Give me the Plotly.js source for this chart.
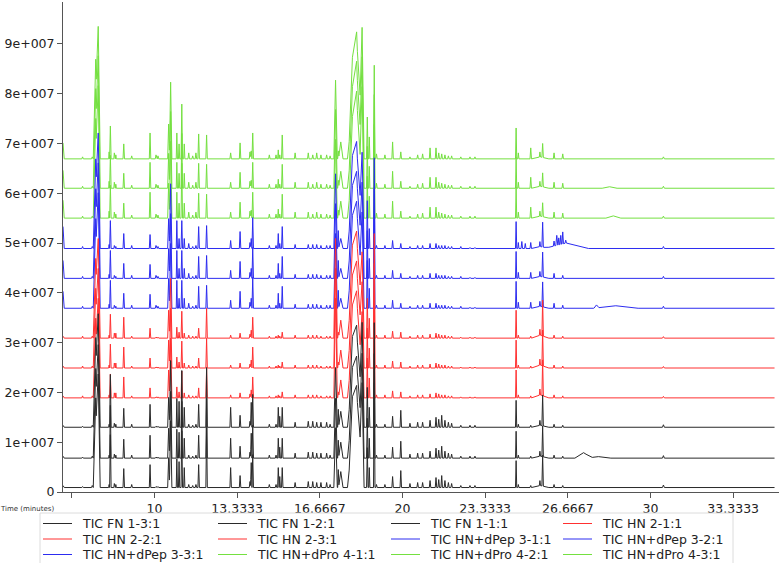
<!DOCTYPE html>
<html><head><meta charset="utf-8">
<script src="https://cdn.plot.ly/plotly-3.0.1.min.js"></script>
<style>html,body{margin:0;padding:0;background:#fff}#chart{width:779px;height:563px}</style>
</head><body><div id="chart"></div>
<script>
// Series (drawing order: back to front); legend shows them reversed
const seriesNames = ['TIC HN+dPro 4-3:1','TIC HN+dPro 4-2:1','TIC HN+dPro 4-1:1',
  'TIC HN+dPep 3-3:1','TIC HN+dPep 3-2:1','TIC HN+dPep 3-1:1',
  'TIC HN 2-3:1','TIC HN 2-2:1','TIC HN 2-1:1',
  'TIC FN 1-1:1','TIC FN 1-2:1','TIC FN 1-3:1'];
const seriesGroup = ['Pro','Pro','Pro','Pep','Pep','Pep','HN','HN','HN','FN','FN','FN'];
// baseline offsets, millions of counts
const baselines = [66.9, 61.0, 55.0, 48.9, 42.9, 36.9, 30.9, 24.9, 18.9, 13.0, 6.8, 0.9];

const T_START = 6.31, T_END = 35.0;

// peak retention times (minutes) and half widths (minutes)
const peakTimes = [7.10,7.49,7.63,7.73,8.17,8.22,8.38,8.44,8.76,9.08,
  9.82,10.06,10.14,10.57,10.65,10.90,10.99,11.10,11.20,11.38,
  11.54,11.67,11.78,12.10,13.07,13.45,13.85,13.90,13.96,14.63,
  14.90,14.99,15.05,15.15,15.67,16.20,16.38,16.54,16.71,16.94,
  17.08,17.30,17.41,17.51,17.98,18.15,18.37,18.58,18.66,18.86,
  18.95,19.29,19.60,19.93,20.30,20.61,20.81,21.11,21.35,21.46,
  21.58,21.71,21.85,21.98,22.35,22.72,22.92,24.58,24.67,25.17,
  25.55,25.54,25.65,26.11,26.46,30.52];
const peakWidths = [.03,.03,.10,.08,.02,.03,.02,.02,.03,.03,
  .03,.03,.03,.04,.05,.025,.025,.03,.025,.03,
  .03,.03,.03,.03,.03,.03,.03,.03,.03,.03,
  .03,.025,.025,.03,.03,.03,.03,.03,.03,.03,
  .03,.07,.025,.09,.2,.3,.08,.03,.025,.03,
  .03,.03,.03,.03,.03,.03,.03,.03,.03,.03,
  .03,.03,.03,.03,.03,.03,.03,.025,.025,.03,
  .35,.025,.03,.03,.03,.04];
// peak heights above baseline, millions of counts
const heightsFN = [0.2,0.4,18,22.8,0.6,10.6,0.8,0.6,3.8,0.6,
  4.6,0.2,0.2,6,13.4,5.8,5.2,11.4,4,0.6,
  0.4,0.6,4.6,12,4,2.4,1.2,5,6.6,0.6,
  0.6,4,2.2,4,1,1.2,1.2,1,1,1,
  0.6,12,3.6,3.2,10,19,16,8,4,21,
  0.6,0.6,2.2,3.4,0.8,1,1,1.4,2,1.6,
  2.4,1.4,1,0.8,0.4,0.4,0.4,5.4,0.6,0.4,
  0.4,1,6.2,0.6,0.4,0.5];
const heightsHN = [0.4,0.4,16,20,0.6,4.8,1,1,4.2,0.4,
  2,0.2,0.2,5.6,12,2.2,1.2,5.4,1,0.6,
  0.4,0.4,2,6,0.6,1,0.8,1.6,4.2,0.4,
  0.4,0.6,0.4,1.2,0.6,0.6,0.6,0.6,0.4,0.4,
  0.4,20,1.2,3.6,10,20,12,8,4,21,
  0.6,0.6,1.4,1.2,0.4,0.6,0.6,0.8,1,0.8,
  0.6,0.6,0.4,0.4,0.2,0.2,0.2,5.6,0.6,0.4,
  0.6,1.2,7.2,0.6,0.4,0.3];
const heightsPep = [0.4,0.4,18,23.2,0.8,5.6,0.6,0.4,3,0.6,
  2.8,0.6,0.4,6,13,5.6,2,5.6,2,1,
  0.4,0.6,4.4,4.6,1.6,3.4,1.2,2,6.2,0.6,
  0.6,3,1,4.4,0.8,0.8,0.8,0.8,0.6,0.6,
  0.6,15,3.6,2,10,20,14,9.6,4,18.2,
  0.6,0.6,1.6,1,0.4,0.6,0.6,1,1,0.6,
  0.6,0.6,0.4,0.4,0.4,0.2,0.2,5.4,1.2,1.2,
  0.4,1,5,1,0.6,0.4];
const heightsPro = [0.4,0.4,20,26.6,1.4,6.6,1.2,0.8,3,0.6,
  5.2,0.8,0.6,7,15.4,5.2,3,11,3,1.2,
  0.6,1.2,5,4.8,1.2,3.2,1.4,1.6,5.2,0.8,
  0.8,1.8,0.8,4.8,1.2,1.2,0.8,1.2,0.8,0.8,
  0.6,15.8,1.6,3.4,10,24,20,8.4,4.4,18.8,
  1,0.8,3.4,1.4,0.4,0.8,1,2.2,2.2,1.2,
  1,0.8,0.6,0.6,0.4,0.4,0.4,6.2,1.2,2.2,
  0.4,1,2.8,1.2,1,0.4];
const groupHeights = {FN: heightsFN, HN: heightsHN, Pep: heightsPep, Pro: heightsPro};

// trace-specific features: [time, half width, height (millions)]
const extrasPro43 = [[6.31,0.05,3.2]];
const extrasPro42 = [[6.31,0.05,3.6],[28.35,0.3,0.3]];
const extrasPro41 = [[6.31,0.05,3.6],[28.5,0.3,0.45]];
const extrasPep33 = [[6.31,0.05,4.4],[24.81,0.03,1.4],[24.95,0.03,1.0],[26.6,0.9,1.1],
  [26.22,0.04,2.0],[26.30,0.03,1.4],[26.38,0.03,1.8],[26.46,0.03,1.8],[26.58,0.03,0.6]];
const extrasPep32 = [[6.31,0.05,3.6]];
const extrasPep31 = [[6.31,0.05,3.4],[27.82,0.1,0.6],[28.6,0.9,0.5]];
const extrasHN23 = [[6.31,0.05,0.4]];
const extrasHN22 = [[6.31,0.05,0.4]];
const extrasHN21 = [[6.31,0.05,0.4]];
const extrasFN11 = [[6.31,0.05,0.4]];
const extrasFN12 = [[6.31,0.05,0.4],[27.3,0.35,1.1],[27.9,0.5,0.3]];
const extrasFN13 = [[6.31,0.05,0.4]];
const seriesExtras = [extrasPro43,extrasPro42,extrasPro41,extrasPep33,extrasPep32,extrasPep31,
  extrasHN23,extrasHN22,extrasHN21,extrasFN11,extrasFN12,extrasFN13];

const groupColors = {FN:'#2a2a2a', HN:'#ff3030', Pep:'#2c2cf0', Pro:'#74e040'};

const yTickVals = [0,1e7,2e7,3e7,4e7,5e7,6e7,7e7,8e7,9e7];
const yTickText = ['0','1e+007','2e+007','3e+007','4e+007','5e+007','6e+007','7e+007','8e+007','9e+007'];
const xTickVals = [6.66667,10,13.3333,16.6667,20,23.3333,26.6667,30,33.3333];
const xTickText = ['','10','13.3333','16.6667','20','23.3333','26.6667','30','33.3333'];

function buildSeries(k){
  const H = groupHeights[seriesGroup[k]];
  const peaks = peakTimes.map((t,i)=>[t, peakWidths[i], H[i]]).concat(seriesExtras[k]);
  let xs = [T_START, T_END];
  peaks.forEach(p=>{ xs.push(p[0]-p[1], p[0], p[0]+p[1]); });
  xs = Array.from(new Set(xs.filter(x=>x>=T_START && x<=T_END).map(x=>+x.toFixed(4)))).sort((a,b)=>a-b);
  const ys = xs.map(x=>{
    let v = baselines[k];
    peaks.forEach(p=>{ const d = Math.abs(x-p[0]); if(d<p[1]) v += p[2]*(1-d/p[1]); });
    return v*1e6;
  });
  return {x: xs, y: ys};
}

const traces = seriesNames.map((name,k)=>{
  const s = buildSeries(k);
  return {type:'scatter', mode:'lines', name:name, x:s.x, y:s.y,
    line:{color:groupColors[seriesGroup[k]], width:1}, hoverinfo:'skip', showlegend:false};
});

// plot box in pixels
const W = 779, Hh = 563, L = 63, R = 0, T = 2, B = 71;
const pw = W-L-R, ph = Hh-T-B;
const px2x = p => (p-L)/pw;
const py2y = p => (Hh-B-p)/ph;

const annotations = [{text:'Time (minutes)', xref:'paper', yref:'paper', x:px2x(27), y:py2y(509),
  xanchor:'center', yanchor:'middle', showarrow:false, font:{family:'DejaVu Sans', size:7, color:'#333'}}];
const shapes = [{type:'rect', xref:'paper', yref:'paper', x0:px2x(40), x1:px2x(733), y0:py2y(513), y1:py2y(575),
  line:{color:'#dcdcdc', width:1}, fillcolor:'rgba(0,0,0,0)'}];
const legendOrder = seriesNames.slice().reverse();
const colX = [80, 255, 428, 600], rowY = [523.5, 539, 554.5];
legendOrder.forEach((name,i)=>{
  const k = seriesNames.indexOf(name);
  const cx = colX[i%4], cy = rowY[Math.floor(i/4)];
  shapes.push({type:'line', xref:'paper', yref:'paper', x0:px2x(cx-37), x1:px2x(cx-8), y0:py2y(cy), y1:py2y(cy),
    line:{color:groupColors[seriesGroup[k]], width:1}});
  annotations.push({text:name, xref:'paper', yref:'paper', x:px2x(cx), y:py2y(cy), xanchor:'left', yanchor:'middle',
    showarrow:false, font:{family:'DejaVu Sans', size:12.5, color:'#222'}});
});

const layout = {
  width:W, height:Hh, margin:{l:L, r:R, t:T, b:B, pad:0},
  paper_bgcolor:'#fff', plot_bgcolor:'#fff', showlegend:false,
  font:{family:'DejaVu Sans', size:12.5, color:'#222'},
  xaxis:{range:[T_START, 35.18], tickvals:xTickVals, ticktext:xTickText, showgrid:false, zeroline:false,
    showline:true, linecolor:'#555', linewidth:1, ticks:'outside', ticklen:5, tickcolor:'#555',
    tickfont:{family:'DejaVu Sans', size:12.5, color:'#222'}},
  yaxis:{range:[0, 9.84e7], tickvals:yTickVals, ticktext:yTickText, showgrid:false, zeroline:false,
    showline:true, linecolor:'#555', linewidth:1, ticks:'outside', ticklen:5, tickcolor:'#555',
    tickfont:{family:'DejaVu Sans', size:12.5, color:'#222'}},
  annotations:annotations, shapes:shapes
};
Plotly.newPlot('chart', traces, layout, {staticPlot:true, displayModeBar:false});
</script></body></html>
